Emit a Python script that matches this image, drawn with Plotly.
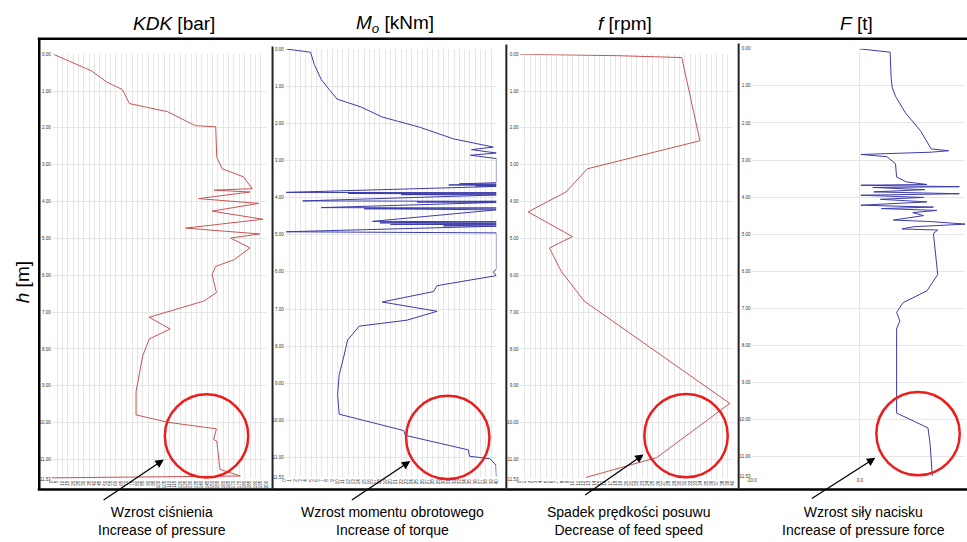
import plotly.graph_objects as go

W, H = 967, 542

# ---------------- data (depth h [m] vs. value) ----------------
kdk_depth = [0.0, 0.45, 0.75, 0.96, 1.34, 1.56, 1.94, 1.97, 2.80, 3.11, 3.33, 3.65, 3.69, 3.74,
             3.92, 4.05, 4.26, 4.48, 4.72, 4.88, 4.99, 5.26, 5.58, 5.76, 5.98, 6.47, 6.70, 7.14,
             7.46, 7.73, 8.18, 9.16, 9.79, 9.99, 10.17, 10.46, 10.50, 11.27, 11.45, 11.50]
kdk_val = [1.5, 37, 51, 66, 72.5, 108, 134, 153, 154, 159, 179, 187, 151.6, 185,
           137, 193, 149.6, 197, 125, 194, 167, 185, 170, 153, 149.6, 153.7, 142, 91,
           110.5, 91, 85, 78.7, 78.7, 108, 153.7, 151, 154, 157, 176, 0]

mo_depth = [0.0, 0.09, 0.42, 0.82, 1.09, 1.35, 1.56, 1.83, 2.11, 2.42, 2.64, 2.71, 2.80, 2.86, 2.95,
            3.60, 3.63, 3.64, 3.66, 3.67, 3.69, 3.70,
            3.86, 3.87, 3.89, 3.90, 3.92, 3.93,
            4.09, 4.10, 4.12, 4.13,
            4.27, 4.28, 4.30, 4.31, 4.32, 4.33,
            4.64, 4.65, 4.68, 4.69, 4.72, 4.73, 4.76, 4.77,
            4.92, 4.93, 4.94, 4.95,
            5.92, 6.01, 6.10, 6.17, 6.37, 6.53, 6.81, 7.06, 7.30, 7.46, 7.83, 8.32, 8.77,
            9.30, 9.83, 10.27, 10.40, 10.79, 10.96, 11.03, 11.20, 11.51]
mo_val = [0.3, 4.9, 5.6, 6.9, 8.4, 9.9, 14.4, 18.4, 25.6, 31.9, 39.4, 35.3, 40, 35.1, 40,
          40, 33, 40, 31, 40, 36, 40,
          0.3, 40, 12, 40, 22, 40,
          3.4, 40, 25, 40,
          6.9, 40, 15, 40, 28, 40,
          16.6, 40, 18, 40, 20, 40, 30, 40,
          0.3, 40, 10, 40,
          40, 39.4, 40, 36.9, 28.8, 28.1, 18.4, 28.8, 23.1, 14.1, 11.9, 11.1, 10.3,
          10.0, 10.3, 22.5, 22.8, 34.7, 34.9, 38.8, 39.9, 40]

f_depth = [0.0, 0.04, 0.09, 2.35, 3.11, 3.74, 4.28, 4.95, 5.26, 5.89, 6.70, 9.48, 10.95, 11.49]
f_val = [0, 18.3, 30.4, 33.8, 12.7, 8.7, 1.6, 9.9, 5.6, 7.8, 12.1, 39.4, 25.7, 12.4]

F_depth = [0.0, 0.09, 0.79, 1.05, 1.28, 1.72, 2.21, 2.70, 2.75, 2.79, 2.85, 2.91, 3.10, 3.46,
           3.59, 3.66, 3.68, 3.72, 3.74, 3.80, 3.86, 3.91, 3.95, 4.01, 4.06, 4.13, 4.22, 4.27,
           4.31, 4.36, 4.42, 4.50, 4.62, 4.66, 4.73, 4.80, 4.86, 4.89, 4.98, 5.78, 6.09, 6.53,
           6.85, 7.11, 7.34, 7.56, 8.36, 9.25, 9.83, 10.05, 10.23, 10.68, 11.39, 11.53]
F_val = [0, 2.8, 2.9, 3.0, 3.3, 4.2, 5.6, 6.6, 8.2, 6.5, 0.1, 2.5, 3.3, 3.4,
         4.3, 6.2, 0.1, 9.2, 1.2, 6.0, 1.3, 9.2, 0.1, 5.9, 1.9, 6.2, 0.1, 6.8,
         2.0, 7.1, 4.9, 5.9, 3.1, 6.5, 9.8, 5.0, 3.9, 7.2, 6.8, 7.1, 7.2, 6.2,
         4.0, 3.4, 3.7, 3.4, 3.4, 3.4, 3.4, 5.0, 6.3, 6.5, 6.7, 6.7]

depth_ticks = [0, 1, 2, 3, 4, 5, 6, 7, 8, 9, 10, 11, 11.53]
depth_labels = ["0.00", "1.00", "2.00", "3.00", "4.00", "5.00", "6.00", "7.00", "8.00",
                "9.00", "10.00", "11.00", "11.53"]

titles = ["<i>KDK</i> [bar]", "<i>M<sub>o</sub></i> [kNm]", "<i>f</i> [rpm]", "<i>F</i> [t]"]
notes = ["Wzrost ciśnienia<br>Increase of pressure",
         "Wzrost momentu obrotowego<br>Increase of torque",
         "Spadek prędkości posuwu<br>Decrease of feed speed",
         "Wzrost siły nacisku<br>Increase of pressure force"]

RED = "rgb(200,85,85)"
BLUE = "rgb(60,60,170)"
GRID = "#e6e6e6"


def px(x):
    return x / W


def py(y):
    return 1 - y / H


fig = go.Figure()
series = [(kdk_val, kdk_depth, RED), (mo_val, mo_depth, BLUE),
          (f_val, f_depth, RED), (F_val, F_depth, BLUE)]
for i, (xv, yv, col) in enumerate(series, start=1):
    fig.add_trace(go.Scatter(x=xv, y=yv, mode="lines", line=dict(color=col, width=1),
                             xaxis=f"x{i}" if i > 1 else "x",
                             yaxis=f"y{i}" if i > 1 else "y",
                             showlegend=False, hoverinfo="skip"))

# panel geometry (pixels)
xdom = [(47, 263), (281.7, 495), (518.3, 733.3), (752, 967)]
ydom = [(52.7, 481.4), (47.4, 479.8), (52.7, 481.4), (47.3, 478.5)]
xranges = [[0, 200], [0, 40], [0, 40], [-10, 9.72]]
xdticks = [5, 1, 1, 10]

layout = dict(width=W, height=H, margin=dict(l=0, r=0, t=0, b=0),
              paper_bgcolor="white", plot_bgcolor="white",
              font=dict(family="Liberation Sans, Arial, sans-serif", color="black"))
for i in range(4):
    sfx = "" if i == 0 else str(i + 1)
    xa = dict(domain=[px(xdom[i][0]), px(xdom[i][1])], range=xranges[i],
              anchor="y" + sfx, showgrid=True, gridcolor=GRID, gridwidth=0.6,
              zeroline=False, showline=False, ticks="",
              tickfont=dict(size=4.5, color="#333"), fixedrange=True)
    if i < 3:
        xa.update(dtick=xdticks[i], tick0=0, tickangle=-90)
    else:
        xa.update(tickvals=[-10, 0], ticktext=["-10.0", "0.0"])
    ya = dict(domain=[py(ydom[i][1]), py(ydom[i][0])], range=[11.53, 0],
              anchor="x" + sfx, showgrid=True, gridcolor=GRID, gridwidth=0.6,
              zeroline=False, showline=False, ticks="",
              tickvals=depth_ticks, ticktext=depth_labels,
              tickfont=dict(size=4.5, color="#333"), fixedrange=True)
    layout["xaxis" + sfx] = xa
    layout["yaxis" + sfx] = ya

shapes = []
# outer frame
shapes.append(dict(type="line", xref="paper", yref="paper", x0=px(33), x1=px(970),
                   y0=py(37), y1=py(37), line=dict(color="black", width=2.5)))
shapes.append(dict(type="line", xref="paper", yref="paper", x0=px(33), x1=px(970),
                   y0=py(492), y1=py(492), line=dict(color="black", width=2.5)))
shapes.append(dict(type="line", xref="paper", yref="paper", x0=px(34.5), x1=px(34.5),
                   y0=py(37), y1=py(492), line=dict(color="black", width=2.5)))
# panel axis lines
for xx, ytop in [(269.5, 45), (505, 43), (739, 42)]:
    shapes.append(dict(type="line", xref="paper", yref="paper", x0=px(xx), x1=px(xx),
                       y0=py(ytop), y1=py(492), line=dict(color="#222", width=2)))
# red circles
for cx, cy in [(203, 438), (446, 439.5), (686, 437.7), (919.7, 435.7)]:
    r = 42
    shapes.append(dict(type="circle", xref="paper", yref="paper",
                       x0=px(cx - r), x1=px(cx + r), y0=py(cy + r), y1=py(cy - r),
                       line=dict(color="rgb(235,30,30)", width=2.5)))
layout["shapes"] = shapes

ann = []
for t, cx in zip(titles, [170, 393, 625, 858]):
    ann.append(dict(text=t, x=px(cx), y=py(22), xref="paper", yref="paper",
                    showarrow=False, xanchor="center", yanchor="middle",
                    font=dict(size=19)))
ann.append(dict(text="<i>h</i> [m]", x=px(18), y=py(283), xref="paper", yref="paper",
                showarrow=False, textangle=-90, xanchor="center", yanchor="middle",
                font=dict(size=19)))
for t, cx in zip(notes, [158, 390, 628, 865]):
    ann.append(dict(text=t, x=px(cx), y=py(524), xref="paper", yref="paper",
                    showarrow=False, xanchor="center", yanchor="middle",
                    font=dict(size=14)))
for (hx, hy), (tx, ty) in [((160, 461.7), (98.3, 503.3)), ((408.3, 463.3), (348.3, 503.3)),
                           ((643.3, 456.7), (583.3, 498.3)), ((876.7, 460), (811.7, 501.7))]:
    ann.append(dict(text="", x=px(hx), y=py(hy), xref="paper", yref="paper",
                    showarrow=True, ax=tx - hx, ay=ty - hy, arrowhead=2, arrowsize=1.3,
                    arrowwidth=1.3, arrowcolor="black", standoff=0))
layout["annotations"] = ann

fig.update_layout(**layout)
fig.write_html("out.html")
